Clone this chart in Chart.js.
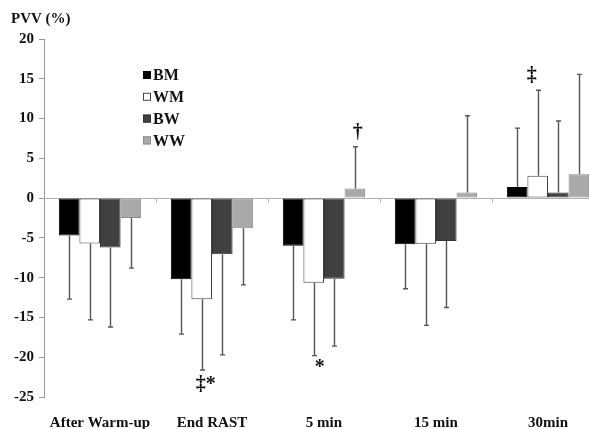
<!DOCTYPE html>
<html>
<head>
<meta charset="utf-8">
<script src="https://cdn.jsdelivr.net/npm/chart.js@4/dist/chart.umd.min.js"></script>
<style>
  html, body { margin: 0; padding: 0; background: #fff; overflow: hidden; }
  #wrap { width: 589px; height: 429px; overflow: hidden; position: relative; }
  canvas { display: block; }
</style>
</head>
<body>
<div id="wrap"><canvas id="c" width="604" height="429"></canvas></div>
<script>
const categories = ['After Warm-up', 'End RAST', '5 min', '15 min', '30min'];
const seriesNames = ['BM', 'WM', 'BW', 'WW'];
const BM = [-4.7, -10.2, -6.0, -5.8, 1.4];
const WM = [-5.7, -12.7, -10.65, -5.75, 2.8];
const BW = [-6.2, -7.05, -10.15, -5.4, 0.7];
const WW = [-2.5, -3.8, 1.2, 0.7, 3.0];
const BM_SD = [8.0, 6.9, 9.3, 5.6, 7.4];
const WM_SD = [9.6, 8.9, 9.15, 10.25, 10.75];
const BW_SD = [10.0, 12.65, 8.45, 8.35, 9.0];
const WW_SD = [6.3, 7.1, 5.25, 9.65, 12.55];
const yTicks = [-25, -20, -15, -10, -5, 0, 5, 10, 15, 20];
const axisTitle = 'PVV (%)';
// significance marks: series index, category index, symbol
const marks = [
  { s: 1, c: 1, text: '‡*' },
  { s: 1, c: 2, text: '*' },
  { s: 3, c: 2, text: '†' },
  { s: 1, c: 4, text: '‡' }
];

const FONT = '"Liberation Serif", "Times New Roman", serif';
const fills = ['#000000', '#ffffff', '#404040', '#a9a9a9'];
const borders = ['#000000', '#444444', '#333333', '#8a8a8a'];
const values = [BM, WM, BW, WW];
const sds = [BM_SD, WM_SD, BW_SD, WW_SD];

const markOffsets = { '‡*': [4, 15], '*': [6, 12], '†': [3, -14], '‡': [-6, -14] };

const extras = {
  id: 'extras',
  beforeDatasetsDraw(chart) {
    const ctx = chart.ctx, ca = chart.chartArea;
    const y = chart.scales.y;
    const y0 = Math.round(y.getPixelForValue(0)) + 0.5;
    ctx.save();
    ctx.strokeStyle = '#b0b0b0';
    ctx.lineWidth = 1;
    ctx.beginPath();
    ctx.moveTo(ca.left, y0); ctx.lineTo(ca.right, y0);
    const w = (ca.right - ca.left) / categories.length;
    for (let i = 1; i < categories.length; i++) {
      const xx = Math.round(ca.left + i * w) + 0.5;
      ctx.moveTo(xx, y0); ctx.lineTo(xx, y0 + 4);
    }
    ctx.stroke();
    ctx.restore();
  },
  afterDatasetsDraw(chart) {
    const ctx = chart.ctx;
    const y = chart.scales.y;
    ctx.save();
    ctx.strokeStyle = '#555';
    ctx.lineWidth = 1.4;
    chart.data.datasets.forEach((ds, si) => {
      const meta = chart.getDatasetMeta(si);
      meta.data.forEach((el, ci) => {
        const v = ds.data[ci];
        const sd = sds[si][ci];
        const end = v + (v >= 0 ? sd : -sd);
        const yb = el.y, ye = y.getPixelForValue(end);
        const xx = Math.round(el.x) + 0.5;
        ctx.beginPath();
        ctx.moveTo(xx, yb); ctx.lineTo(xx, ye);
        ctx.moveTo(xx - 2.5, ye); ctx.lineTo(xx + 2.5, ye);
        ctx.stroke();
      });
    });
    // significance marks
    ctx.fillStyle = '#111';
    ctx.textAlign = 'center';
    ctx.textBaseline = 'middle';
    ctx.font = 'bold 20px ' + FONT;
    marks.forEach(m => {
      const el = chart.getDatasetMeta(m.s).data[m.c];
      const v = values[m.s][m.c];
      const sd = sds[m.s][m.c];
      const end = v + (v >= 0 ? sd : -sd);
      const off = markOffsets[m.text];
      ctx.fillText(m.text, el.x + off[0], y.getPixelForValue(end) + off[1]);
    });
    // legend
    ctx.font = 'bold 16px ' + FONT;
    ctx.textAlign = 'left';
    const lx = 143, ly0 = 75, dy = 21.8;
    seriesNames.forEach((n, i) => {
      const yy = ly0 + i * dy;
      ctx.fillStyle = fills[i];
      ctx.fillRect(lx, yy - 4, 8, 8);
      ctx.strokeStyle = borders[i];
      ctx.lineWidth = 1;
      ctx.strokeRect(lx + 0.5, yy - 3.5, 7, 7);
      ctx.fillStyle = '#111';
      ctx.fillText(n, lx + 10, yy + 1);
    });
    // y axis title
    ctx.font = 'bold 15px ' + FONT;
    ctx.fillText(axisTitle, 11, 19);
    ctx.restore();
  }
};

new Chart(document.getElementById('c'), {
  type: 'bar',
  data: {
    labels: categories,
    datasets: seriesNames.map((n, i) => ({
      label: n,
      data: values[i],
      backgroundColor: fills[i],
      borderColor: borders[i],
      borderWidth: 1,
      borderSkipped: false,
      barPercentage: 1,
      categoryPercentage: 0.735
    }))
  },
  options: {
    responsive: false,
    animation: false,
    layout: { padding: { top: 39, left: 0, right: 0, bottom: 0 } },
    plugins: { legend: { display: false }, tooltip: { enabled: false }, title: { display: false } },
    scales: {
      x: {
        grid: { display: false, drawTicks: false },
        border: { display: false },
        ticks: { color: '#111', font: { family: FONT, size: 15, weight: 'bold' }, padding: 17, maxRotation: 0 },
        afterFit(s) { s.height = 32; }
      },
      y: {
        min: -25, max: 20,
        afterBuildTicks(s) { s.ticks = yTicks.map(v => ({ value: v })); },
        grid: { drawOnChartArea: false, drawTicks: true, tickLength: 5, color: '#999' },
        border: { display: true, color: '#999', width: 1 },
        ticks: { color: '#111', font: { family: FONT, size: 15, weight: 'bold' }, padding: 5 },
        afterFit(s) { s.width = 44; }
      }
    }
  },
  plugins: [extras]
});
</script>
</body>
</html>
